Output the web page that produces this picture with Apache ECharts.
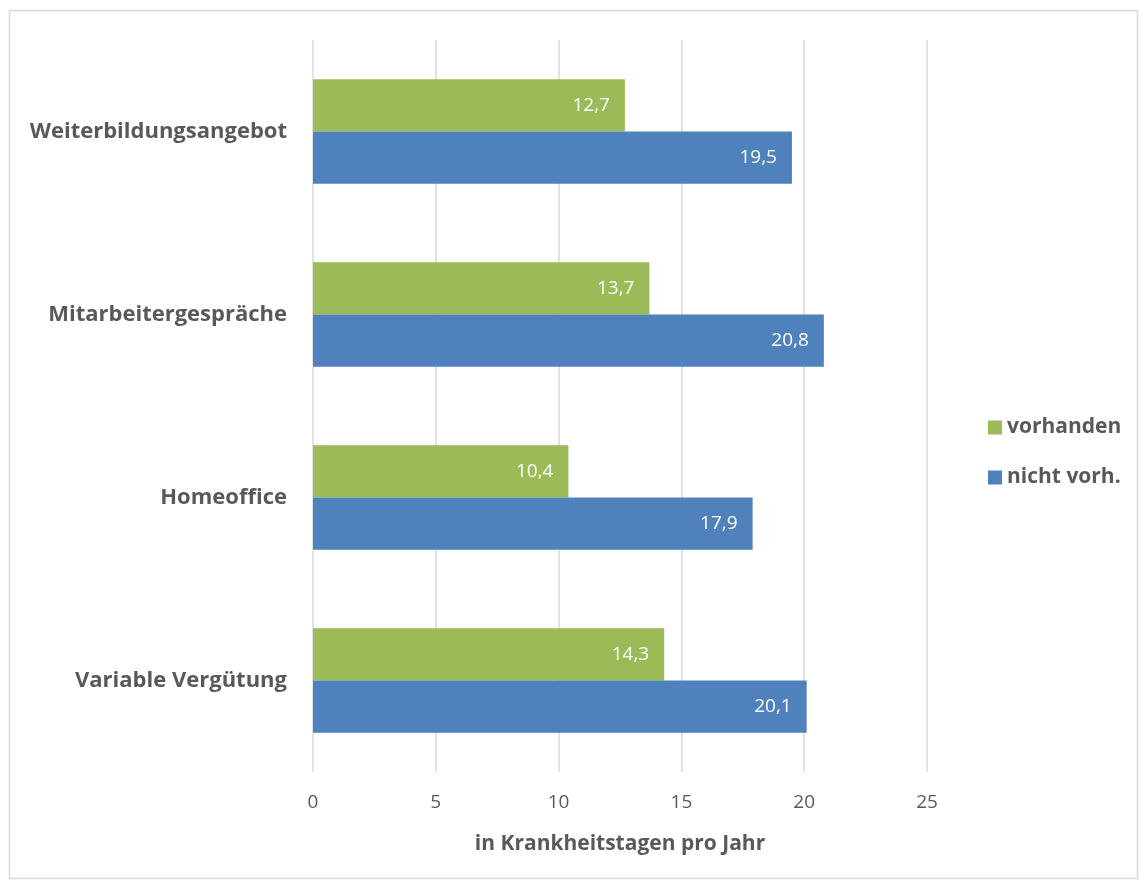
<!DOCTYPE html>
<html><head><meta charset="utf-8">
<script src="https://cdn.jsdelivr.net/npm/echarts@6/dist/echarts.min.js"></script>
<style>html,body{margin:0;padding:0;background:#fff}#c{width:1140px;height:884px}</style>
</head><body><div id="c"></div>
<script>
const categories = ['Weiterbildungsangebot','Mitarbeitergespräche','Homeoffice','Variable Vergütung'];
const vorhanden = [12.7, 13.7, 10.4, 14.3];
const nichtVorh = [19.5, 20.8, 17.9, 20.1];
const seriesNames = ['vorhanden','nicht vorh.'];
const xTicks = [0,5,10,15,20,25];

const FONT = '"Open Sans", "Noto Sans", sans-serif';
const chart = echarts.init(document.getElementById('c'));
const lbl = {show:true, position:'insideRight', color:'#fff', fontSize:19, fontFamily:FONT, distance:15,
  formatter: p => String(p.value).replace('.', ',')};
chart.setOption({
  animation:false,
  graphic:[{type:'rect', shape:{x:9.5,y:10.5,width:1128,height:868}, style:{fill:null, stroke:'#d9d9d9', lineWidth:1.5}}],
  grid:{left:313, right:213, top:40, bottom:112, containLabel:false},
  legend:{orient:'vertical', left:983, top:412, itemWidth:14, itemHeight:14, itemGap:29, icon:'rect',
    data:seriesNames, textStyle:{color:'#595959', fontSize:21, fontWeight:'bold', fontFamily:FONT}},
  xAxis:{type:'value', min:xTicks[0], max:xTicks[xTicks.length-1], interval:5,
    axisLine:{show:false}, axisTick:{show:false},
    splitLine:{lineStyle:{color:'#d9d9d9', width:1.5}},
    axisLabel:{color:'#595959', fontSize:19, fontFamily:FONT, margin:21},
    name:'in Krankheitstagen pro Jahr', nameLocation:'middle', nameGap:62,
    nameTextStyle:{color:'#595959', fontSize:21, fontWeight:'bold', fontFamily:FONT}},
  yAxis:{type:'category', data:categories, inverse:true,
    axisLine:{show:false}, axisTick:{show:false},
    axisLabel:{color:'#595959', fontSize:22, fontWeight:'bold', fontFamily:FONT, margin:26}},
  series:[
    {name:seriesNames[0], type:'bar', data:vorhanden, itemStyle:{color:'#9BBB59'}, barGap:'0%', barCategoryGap:'43%', label:lbl},
    {name:seriesNames[1], type:'bar', data:nichtVorh, itemStyle:{color:'#4F81BD'}, barGap:'0%', barCategoryGap:'43%', label:lbl}
  ]
});
</script></body></html>
